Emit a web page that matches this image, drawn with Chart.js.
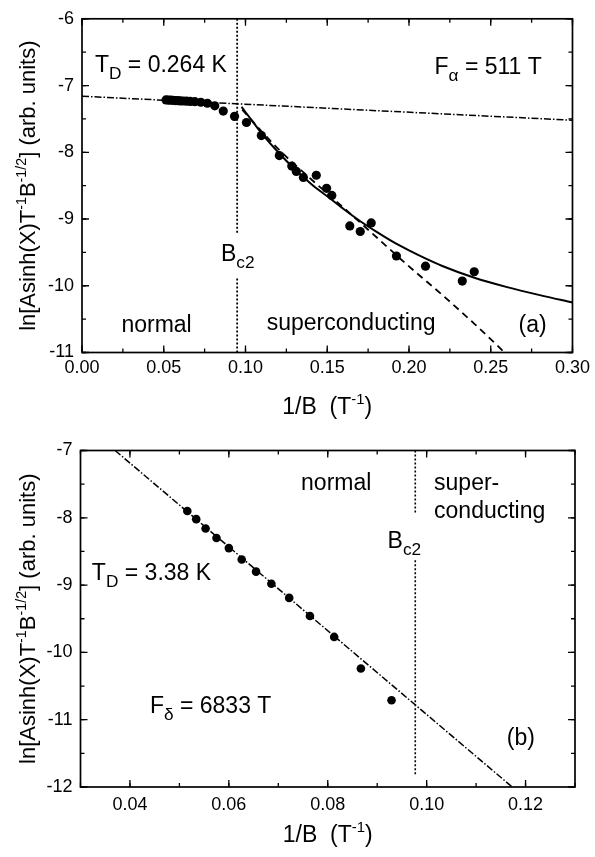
<!DOCTYPE html>
<html>
<head>
<meta charset="utf-8">
<script src="https://cdn.jsdelivr.net/npm/chart.js@4.4.0/dist/chart.umd.min.js"></script>
<style>
  body { margin: 0; background: #fff; }
  #wrap { position: relative; width: 595px; height: 857px; }
  canvas { position: absolute; left: 0; }
</style>
</head>
<body>
<div id="wrap">
  <canvas id="chartA" width="595" height="430" style="top:0"></canvas>
  <canvas id="chartB" width="595" height="427" style="top:430px"></canvas>
</div>
<script>
// ---- panel (a) ----
const xTicksA = [0, 0.05, 0.10, 0.15, 0.20, 0.25, 0.30];
const yTicksA = [-11, -10, -9, -8, -7, -6];
const invBA = [0.0514, 0.0528, 0.0542, 0.0556, 0.0571, 0.0586, 0.0602, 0.0620, 0.0640, 0.0662,
  0.0690, 0.0727, 0.0767, 0.0812, 0.0864, 0.0933, 0.1006, 0.1097, 0.1207, 0.1283, 0.1311,
  0.1354, 0.1433, 0.1496, 0.1528, 0.1638, 0.1702, 0.1769, 0.1923, 0.2101, 0.2326, 0.2399];
const lnAmpA = [-7.215, -7.218, -7.220, -7.222, -7.225, -7.227, -7.230, -7.232, -7.235, -7.238,
  -7.242, -7.250, -7.265, -7.304, -7.382, -7.462, -7.554, -7.750, -8.050, -8.206, -8.287,
  -8.378, -8.344, -8.540, -8.647, -9.103, -9.187, -9.059, -9.554, -9.706, -9.930, -9.790];
const dingleXA = [0, 0.30];
const dingleYA = [-7.16, -7.52];
const solidXA = [0.0976, 0.105, 0.11, 0.12, 0.13, 0.14, 0.15, 0.16, 0.17, 0.18, 0.19, 0.20, 0.21, 0.22, 0.24, 0.26, 0.28, 0.30];
const solidYA = [-7.32, -7.56, -7.72, -8.0, -8.25, -8.47, -8.66, -8.85, -9.03, -9.19, -9.34, -9.47, -9.59, -9.70, -9.88, -10.02, -10.14, -10.25];
const dashXA = [0.098, 0.11, 0.12, 0.14, 0.16, 0.18, 0.20, 0.22, 0.24, 0.2585];
const dashYA = [-7.36, -7.69, -7.95, -8.40, -8.83, -9.27, -9.71, -10.13, -10.57, -11.0];
const bc2A = 0.0949;
const bc2YA = [-6, -9.23, null, -9.89, -11];

// ---- panel (b) ----
const xTicksB = [0.04, 0.06, 0.08, 0.10, 0.12];
const yTicksB = [-12, -11, -10, -9, -8, -7];
const invBB = [0.0516, 0.0534, 0.0553, 0.0575, 0.0600, 0.0626, 0.0655, 0.0686, 0.0722, 0.0764, 0.0813, 0.0867, 0.0929];
const lnAmpB = [-7.90, -8.02, -8.16, -8.30, -8.45, -8.62, -8.80, -8.98, -9.19, -9.46, -9.77, -10.24, -10.71];
const dingleXB = [0.037, 0.1173];
const dingleYB = [-7, -12];
const bc2B = 0.0977;
const bc2YB = [-7, -7.93, null, -8.63, -11.82];

const FONT = '"Liberation Sans", Arial, Helvetica, sans-serif';
const pts = (xs, ys) => xs.map((x, i) => ({ x: x, y: ys[i] }));

function drawRich(ctx, parts, x, y, size, align) {
  const sz = p => p.sup ? size * 0.65 : p.sub ? size * 0.75 : size;
  const w = parts.map(p => { ctx.font = sz(p) + 'px ' + FONT; return ctx.measureText(p.t).width; });
  const total = w.reduce((a, b) => a + b, 0);
  let cx = align === 'center' ? x - total / 2 : align === 'right' ? x - total : x;
  ctx.textAlign = 'left';
  ctx.textBaseline = 'alphabetic';
  ctx.fillStyle = '#000';
  parts.forEach((p, i) => {
    ctx.font = sz(p) + 'px ' + FONT;
    const dy = p.sup ? -size * 0.42 : p.sub ? size * 0.3 : 0;
    ctx.fillText(p.t, cx, y + dy);
    cx += w[i];
  });
}

// frame, inward ticks on all four sides, titles and labels
const decorPlugin = {
  id: 'decor',
  afterDraw(chart, args, o) {
    const { ctx, chartArea: a, scales: { x, y } } = chart;
    ctx.save();
    ctx.strokeStyle = '#000';
    ctx.lineWidth = 1.3;
    const mark = (scale, step, len) => {
      const k0 = Math.ceil(scale.min / step - 1e-6), k1 = Math.floor(scale.max / step + 1e-6);
      for (let k = k0; k <= k1; k++) {
        const p = scale.getPixelForValue(k * step);
        ctx.beginPath();
        if (scale === x) {
          ctx.moveTo(p, a.bottom); ctx.lineTo(p, a.bottom - len);
          ctx.moveTo(p, a.top); ctx.lineTo(p, a.top + len);
        } else {
          ctx.moveTo(a.left, p); ctx.lineTo(a.left + len, p);
          ctx.moveTo(a.right, p); ctx.lineTo(a.right - len, p);
        }
        ctx.stroke();
      }
    };
    mark(x, o.xMinor, 4);
    mark(x, o.xMinor * 2, 7);
    mark(y, o.yMinor, 4);
    mark(y, o.yMinor * 2, 7);
    ctx.lineWidth = 1.7;
    ctx.strokeRect(a.left, a.top, a.right - a.left, a.bottom - a.top);

    drawRich(ctx, [{ t: '1/B  (T' }, { t: '-1', sup: 1 }, { t: ')' }], (a.left + a.right) / 2, a.bottom + o.xTitleOffset, 23, 'center');
    ctx.save();
    ctx.translate(35, (a.top + a.bottom) / 2);
    ctx.rotate(-Math.PI / 2);
    drawRich(ctx, [{ t: 'ln[Asinh(X)T' }, { t: '-1', sup: 1 }, { t: 'B' }, { t: '-1/2', sup: 1 }, { t: '] (arb. units)' }], 0, 0, 22, 'center');
    ctx.restore();

    o.labels.forEach(l => {
      drawRich(ctx, l.parts, x.getPixelForValue(l.x), y.getPixelForValue(l.y), 23, l.align || 'left');
    });
    ctx.restore();
  }
};

function makeChart(id, cfg) {
  return new Chart(document.getElementById(id), {
    type: 'scatter',
    data: { datasets: cfg.datasets },
    options: {
      responsive: false,
      animation: false,
      devicePixelRatio: 1,
      layout: { padding: cfg.padding },
      plugins: { legend: { display: false }, tooltip: { enabled: false }, decor: cfg.decor },
      scales: {
        x: {
          type: 'linear', min: cfg.xMin, max: cfg.xMax,
          grid: { display: false, drawTicks: false },
          border: { display: false },
          afterBuildTicks: s => { s.ticks = cfg.xTicks.map(v => ({ value: v })); },
          afterFit: s => { s.height = cfg.xHeight; },
          ticks: { padding: cfg.xPad, color: '#000', font: { family: FONT, size: 18 }, callback: v => v.toFixed(2) }
        },
        y: {
          type: 'linear', min: cfg.yMin, max: cfg.yMax,
          grid: { display: false, drawTicks: false },
          border: { display: false },
          afterBuildTicks: s => { s.ticks = cfg.yTicks.map(v => ({ value: v })); },
          afterFit: s => { s.width = cfg.yWidth; },
          ticks: { padding: 8, color: '#000', font: { family: FONT, size: 18 }, callback: v => String(v) }
        }
      }
    },
    plugins: [decorPlugin]
  });
}

const dots = (data, r) => ({ data: data, pointRadius: r, pointBackgroundColor: '#000', pointBorderWidth: 0 });
const line = (data, width, dash, extra) => Object.assign({
  data: data, showLine: true, pointRadius: 0, borderColor: '#000', borderWidth: width, borderDash: dash, spanGaps: false
}, extra || {});

makeChart('chartA', {
  padding: { top: 13, right: 19, left: 0, bottom: 0 },
  xMin: 0, xMax: 0.30, yMin: -11, yMax: -6,
  xTicks: xTicksA, yTicks: yTicksA, xHeight: 77.5, yWidth: 82, xPad: 5,
  datasets: [
    line(pts(dingleXA, dingleYA), 1.5, [7, 2, 1.5, 2]),
    line(pts(solidXA, solidYA), 2, [], { cubicInterpolationMode: 'monotone' }),
    line(pts(dashXA, dashYA), 1.8, [7, 5], { cubicInterpolationMode: 'monotone' }),
    line(bc2YA.map(v => ({ x: bc2A, y: v })), 1.8, [2, 2]),
    dots(pts(invBA, lnAmpA), 4.6)
  ],
  decor: {
    xMinor: 0.025, yMinor: 0.5, xTitleOffset: 61.5,
    labels: [
      { x: 0.0079, y: -6.80, parts: [{ t: 'T' }, { t: 'D', sub: 1 }, { t: ' = 0.264 K' }] },
      { x: 0.2156, y: -6.83, parts: [{ t: 'F' }, { t: 'α', sub: 1 }, { t: ' = 511 T' }] },
      { x: 0.085, y: -9.63, parts: [{ t: 'B' }, { t: 'c2', sub: 1 }] },
      { x: 0.0241, y: -10.70, parts: [{ t: 'normal' }] },
      { x: 0.113, y: -10.66, parts: [{ t: 'superconducting' }] },
      { x: 0.267, y: -10.70, parts: [{ t: '(a)' }] }
    ]
  }
});

makeChart('chartB', {
  padding: { top: 20.5, right: 20, left: 0, bottom: 0 },
  xMin: 0.03, xMax: 0.13, yMin: -12, yMax: -7,
  xTicks: xTicksB, yTicks: yTicksB, xHeight: 70, yWidth: 80.5, xPad: 7,
  datasets: [
    line(pts(dingleXB, dingleYB), 1.5, [7, 2, 1.5, 2]),
    line(bc2YB.map(v => ({ x: bc2B, y: v })), 1.6, [2, 2]),
    dots(pts(invBB, lnAmpB), 4.3)
  ],
  decor: {
    xMinor: 0.01, yMinor: 0.5, xTitleOffset: 55,
    labels: [
      { x: 0.0746, y: -7.587, parts: [{ t: 'normal' }] },
      { x: 0.1015, y: -7.587, parts: [{ t: 'super-' }] },
      { x: 0.1015, y: -8.007, parts: [{ t: 'conducting' }] },
      { x: 0.0921, y: -8.453, parts: [{ t: 'B' }, { t: 'c2', sub: 1 }] },
      { x: 0.0323, y: -8.924, parts: [{ t: 'T' }, { t: 'D', sub: 1 }, { t: ' = 3.38 K' }] },
      { x: 0.0686, y: -10.90, parts: [{ t: 'F' }, { t: 'δ', sub: 1 }, { t: ' = 6833 T' }], align: 'right' },
      { x: 0.1162, y: -11.38, parts: [{ t: '(b)' }] }
    ]
  }
});
</script>
</body>
</html>
